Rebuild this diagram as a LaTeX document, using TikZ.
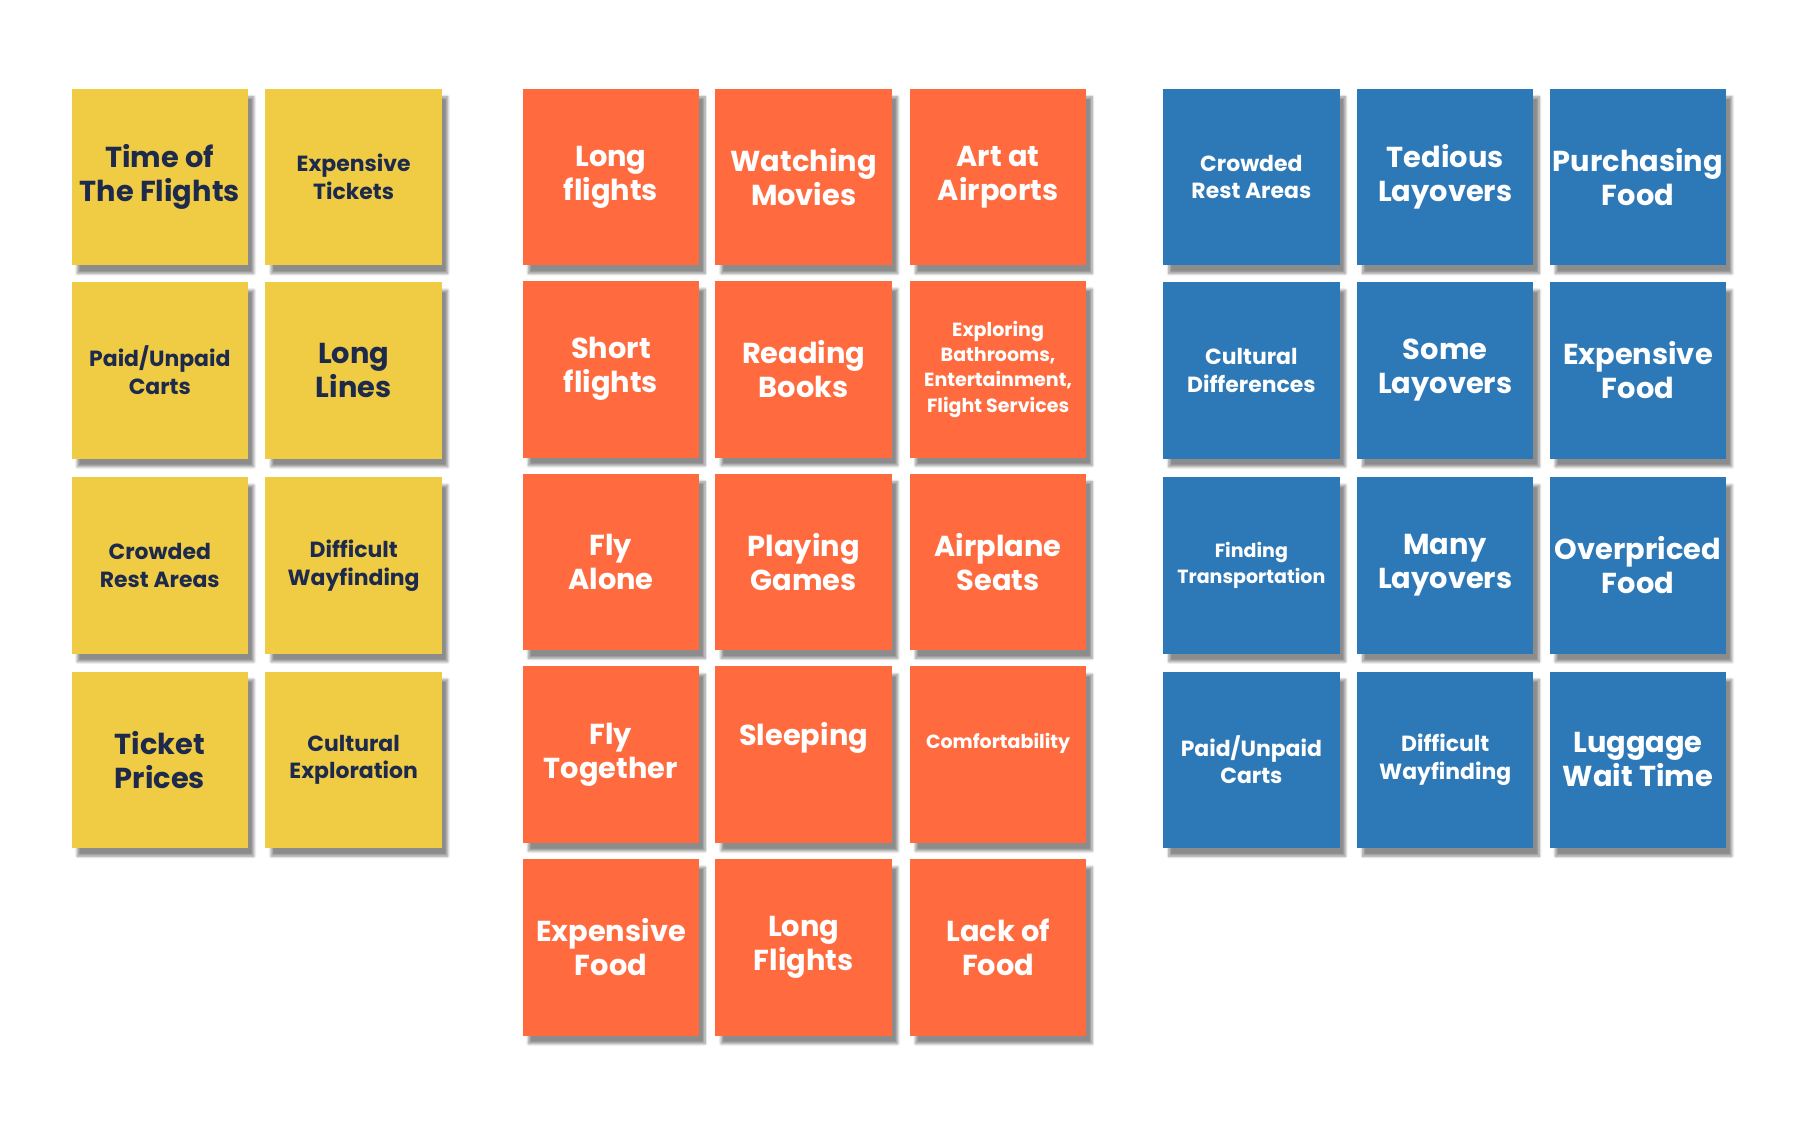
\documentclass[tikz,border=0pt]{standalone}
\usepackage{fontspec}
\setmainfont{Poppins}
\usetikzlibrary{shadows.blur}
\definecolor{noteyellow}{HTML}{EFCC44}
\definecolor{noteorange}{HTML}{FF6B3F}
\definecolor{noteblue}{HTML}{2D79B8}
\definecolor{noteink}{HTML}{1E2A4C}
\tikzset{
  note/.style={minimum size=153pt, inner sep=0pt, align=center, font=\bfseries,
    blur shadow={shadow xshift=5pt, shadow yshift=-7pt, shadow blur steps=8, shadow opacity=45}},
  yellow/.style={note, fill=noteyellow, text=noteink},
  orange/.style={note, fill=noteorange, text=white},
  blue/.style={note, fill=noteblue, text=white},
  big/.style={font=\bfseries\fontsize{25}{29.5}\selectfont},
  mid/.style={font=\bfseries\fontsize{19}{24}\selectfont},
  small/.style={font=\bfseries\fontsize{16.5}{22}\selectfont}
}
\begin{document}
\begin{tikzpicture}[x=1pt, y=-1pt]
  \useasboundingbox (0, 0) rectangle (1560, 974);
  % yellow group
  \node[yellow, big] (time)    at (138.5, 153.5) {Time of\\The Flights};
  \node[yellow, mid] (tickets) at (306.5, 153.5) {Expensive\\Tickets};
  \node[yellow, mid] (carts)   at (138.5, 321)   {Paid/Unpaid\\Carts};
  \node[yellow, big] (lines)   at (306.5, 321)   {Long\\Lines};
  \node[yellow, mid] (crowded) at (138.5, 490)   {Crowded\\Rest Areas};
  \node[yellow, mid] (wayfind) at (306.5, 490)   {Difficult\\Wayfinding};
  \node[yellow, big] (prices)  at (138.5, 658.5) {Ticket\\Prices};
  \node[yellow, mid] (explore) at (306.5, 658.5) {Cultural\\Exploration};
  % orange group
  \node[orange, big] (longfl)   at (529.5, 153.5) {Long\\flights};
  \node[orange, big] (movies)   at (696.5, 153.5) {Watching\\Movies};
  \node[orange, big] (art)      at (865, 153.5)   {Art at\\Airports};
  \node[orange, big] (shortfl)  at (529.5, 320)   {Short\\flights};
  \node[orange, big] (books)    at (696.5, 320)   {Reading\\Books};
  \node[orange, small] (explbath) at (865, 320)   {Exploring\\Bathrooms,\\Entertainment,\\Flight Services};
  \node[orange, big] (alone)    at (529.5, 487)   {Fly\\Alone};
  \node[orange, big] (games)    at (696.5, 487)   {Playing\\Games};
  \node[orange, big] (seats)    at (865, 487)     {Airplane\\Seats};
  \node[orange, big] (together) at (529.5, 654)   {Fly\\Together};
  \node[orange, big] (sleep)    at (696.5, 654)   {Sleeping\\[6pt]};
  \node[orange, small] (comfort) at (865, 654)    {Comfortability\\[2pt]};
  \node[orange, big] (expfood)  at (529.5, 821)   {Expensive\\Food};
  \node[orange, big] (longfl2)  at (696.5, 821)   {Long\\Flights};
  \node[orange, big] (lack)     at (865, 821)     {Lack of\\Food};
  % blue group
  \node[blue, mid] (bcrowded)  at (1084.5, 153.5) {Crowded\\Rest Areas};
  \node[blue, big] (tedious)   at (1252.5, 153.5) {Tedious\\Layovers};
  \node[blue, big] (purchase)  at (1419.5, 153.5) {Purchasing\\Food};
  \node[blue, mid] (cultdiff)  at (1084.5, 321)   {Cultural\\Differences};
  \node[blue, big] (some)      at (1252.5, 321)   {Some\\Layovers};
  \node[blue, big] (bexpfood)  at (1419.5, 321)   {Expensive\\Food};
  \node[blue, small] (transport) at (1084.5, 490) {Finding\\Transportation};
  \node[blue, big] (many)      at (1252.5, 490)   {Many\\Layovers};
  \node[blue, big] (overpriced) at (1419.5, 490)  {Overpriced\\Food};
  \node[blue, mid] (bcarts)    at (1084.5, 658.5) {Paid/Unpaid\\Carts};
  \node[blue, mid] (bwayfind)  at (1252.5, 658.5) {Difficult\\Wayfinding};
  \node[blue, big] (luggage)   at (1419.5, 658.5) {Luggage\\Wait Time};
\end{tikzpicture}
\end{document}
